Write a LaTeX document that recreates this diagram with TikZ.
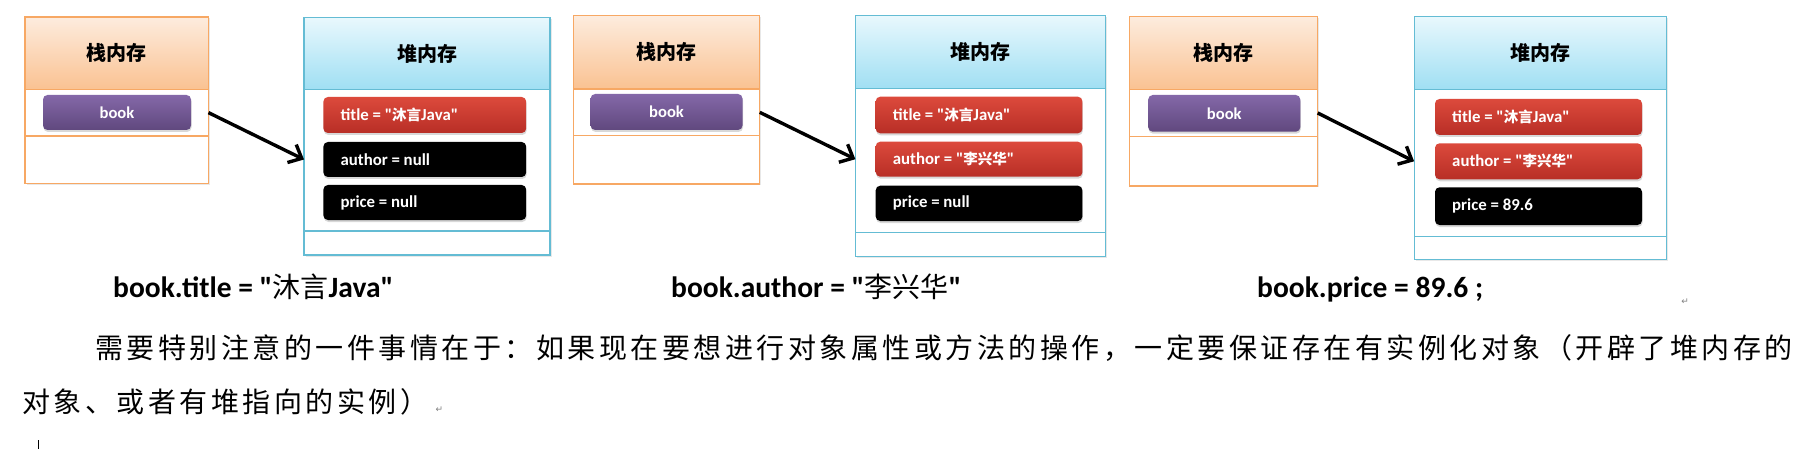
\documentclass[tikz,border=0pt]{standalone}
\usepackage{fontspec}
\setmainfont{Carlito}[Ligatures=TeXOff]
\newfontfamily\cjk{Noto Sans CJK SC}[Ligatures=TeXOff]
\newfontfamily\cjkbody[LetterSpace=12.5]{Noto Sans CJK SC}
\newfontfamily\symf{DejaVu Sans}
\usetikzlibrary{arrows.meta,shadows}
\definecolor{stkTop}{RGB}{253,236,222}
\definecolor{stkBot}{RGB}{250,194,146}
\definecolor{stkLine}{RGB}{247,168,100}
\definecolor{hpTop}{RGB}{232,248,253}
\definecolor{hpBot}{RGB}{160,223,243}
\definecolor{hpLine}{RGB}{100,188,212}
\definecolor{purTop}{RGB}{132,104,168}
\definecolor{purBot}{RGB}{96,72,126}
\definecolor{redTop}{RGB}{220,74,60}
\definecolor{redBot}{RGB}{184,46,38}
\newcommand\zf[1]{{\cjk\bfseries\fontsize{14.5}{16}\selectfont #1}}
\newcommand\zc[1]{{\cjk\mdseries\fontsize{28}{30}\selectfont #1}}
\newcommand\cell[7]{\node[#1, minimum width={#5-#3}, minimum height={#6-#4}] (#2) at ({(#3+#5)/2},{(#4+#6)/2}) {#7};}
\newcommand\fld[7]{\node[#1, minimum width={#5-#3}, minimum height={#6-#4}, label={[fldtext]west:{#7}}] (#2) at ({(#3+#5)/2},{(#4+#6)/2}) {};}
\begin{document}
\begin{tikzpicture}[x=1pt,y=-1pt,
  memframe/.style={draw=#1, line width=1.2pt, fill=white, inner sep=0pt, outer sep=0pt,
    drop shadow={shadow xshift=1.5pt, shadow yshift=-1.5pt, opacity=0.18}},
  stackhead/.style={draw=stkLine, line width=1.2pt, top color=stkTop, bottom color=stkBot,
    inner sep=0pt, outer sep=0pt, font=\cjk\bfseries\fontsize{20}{24}\selectfont},
  stackrow/.style={draw=stkLine, line width=1.2pt, inner sep=0pt, outer sep=0pt},
  heaphead/.style={draw=hpLine, line width=1.2pt, top color=hpTop, bottom color=hpBot,
    inner sep=0pt, outer sep=0pt, font=\cjk\bfseries\fontsize{20}{24}\selectfont},
  heapbody/.style={draw=hpLine, line width=1.2pt, inner sep=0pt, outer sep=0pt},
  btnbase/.style={rounded corners=4.5pt, inner sep=0pt, outer sep=0pt,
    drop shadow={shadow xshift=0.5pt, shadow yshift=-2pt, opacity=0.3}},
  bookbtn/.style={btnbase, top color=purTop, bottom color=purBot, text=white,
    font=\bfseries\fontsize{16.6}{20}\selectfont},
  redfld/.style={btnbase, top color=redTop, bottom color=redBot},
  blkfld/.style={btnbase, fill=black},
  fldtext/.style={anchor=west, xshift=17pt, inner sep=0pt, text=white,
    font=\bfseries\fontsize{16.8}{20}\selectfont},
  arr/.style={line width=3.4pt, black, -{Straight Barb[length=11pt,width=20pt]}},
  caption/.style={anchor=base west, inner sep=0pt, font=\bfseries\fontsize{29.5}{32}\selectfont},
  para/.style={anchor=base west, inner sep=0pt, font=\cjkbody\fontsize{28}{32}\selectfont},
  retmark/.style={inner sep=0pt, text=gray, font=\symf\fontsize{9}{10}\selectfont}]
\fill[white] (0,0) rectangle (1801,449);
\useasboundingbox (0,0) rectangle (1801,449);
% ---------- panel 1
\cell{memframe=stkLine}{sf1}{25}{17}{208.5}{183.5}{}
\cell{stackhead}{sh1}{25}{17}{208.5}{89.3}{栈内存}
\cell{stackrow}{sr1}{25}{89.3}{208.5}{136}{}
\cell{bookbtn}{bk1}{43}{95}{191}{130}{book}
\cell{memframe=hpLine}{hf1}{304}{17.7}{550}{255}{}
\cell{heaphead}{hh1}{304}{17.7}{550}{89.3}{堆内存}
\cell{heapbody}{hb1}{304}{89.3}{550}{231}{}
\fld{redfld}{ti1}{323.4}{97}{526.2}{133}{title = "\zf{沐言}Java"}
\fld{blkfld}{au1}{323.4}{142}{526.2}{177}{author = null}
\fld{blkfld}{pr1}{323.4}{185}{526.2}{220}{price = null}
\draw[arr] (sr1.east) -- (hf1.west |- au1.west);
\node[caption] (cap1) at (113,297.3) {book.title = "\zc{沐言}Java"};
% ---------- panel 2
\cell{memframe=stkLine}{sf2}{573.4}{15.7}{759.8}{184}{}
\cell{stackhead}{sh2}{573.4}{15.7}{759.8}{89}{栈内存}
\cell{stackrow}{sr2}{573.4}{89}{759.8}{135.7}{}
\cell{bookbtn}{bk2}{590.6}{94}{742.5}{130}{book}
\cell{memframe=hpLine}{hf2}{855.4}{15.7}{1105.7}{256.7}{}
\cell{heaphead}{hh2}{855.4}{15.7}{1105.7}{88.7}{堆内存}
\cell{heapbody}{hb2}{855.4}{88.7}{1105.7}{232.7}{}
\fld{redfld}{ti2}{875.7}{96.7}{1082.4}{133.3}{title = "\zf{沐言}Java"}
\fld{redfld}{au2}{875.7}{141.7}{1082.4}{176.7}{author = "\zf{李兴华}"}
\fld{blkfld}{pr2}{875.7}{185.7}{1082.4}{221}{price = null}
\draw[arr] (sr2.east) -- (hf2.west |- au2.west);
\node[caption] (cap2) at (671,297.3) {book.author = "\zc{李兴华}"};
% ---------- panel 3
\cell{memframe=stkLine}{sf3}{1129.6}{16.7}{1317.7}{186}{}
\cell{stackhead}{sh3}{1129.6}{16.7}{1317.7}{89.3}{栈内存}
\cell{stackrow}{sr3}{1129.6}{89.3}{1317.7}{136.7}{}
\cell{bookbtn}{bk3}{1148.2}{95}{1300.3}{131.7}{book}
\cell{memframe=hpLine}{hf3}{1414.1}{16.7}{1666.5}{259.3}{}
\cell{heaphead}{hh3}{1414.1}{16.7}{1666.5}{89.3}{堆内存}
\cell{heapbody}{hb3}{1414.1}{89.3}{1666.5}{236.7}{}
\fld{redfld}{ti3}{1435}{99}{1642}{135}{title = "\zf{沐言}Java"}
\fld{redfld}{au3}{1435}{143.3}{1642}{179.3}{author = "\zf{李兴华}"}
\fld{blkfld}{pr3}{1435}{187.3}{1642}{225}{price = 89.6}
\draw[arr] (sr3.east) -- (hf3.west |- au3.west);
\node[caption] (cap3) at (1257,297.3) {book.price = 89.6 ;};
% ---------- paragraph
\node[retmark] (ret1) at (1685,301.5) {↵};
\node[para] (para1) at (95,358.5) {需要特别注意的一件事情在于：如果现在要想进行对象属性或方法的操作，一定要保证存在有实例化对象（开辟了堆内存的};
\node[para] (para2) at (22,412.5) {对象、或者有堆指向的实例）};
\node[retmark] (ret2) at (439.5,410) {↵};
\draw[line width=0.8pt] (38,440) -- (38,449);
\end{tikzpicture}
\end{document}
